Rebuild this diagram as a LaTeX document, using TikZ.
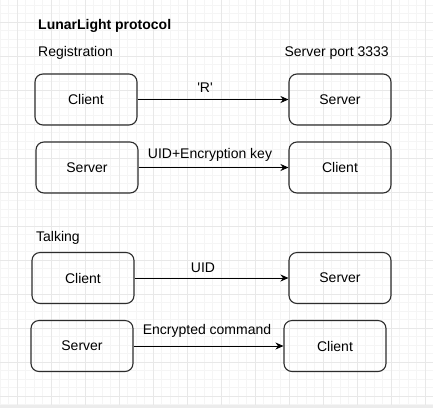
\documentclass[tikz,border=0pt]{standalone}
\usepackage{fontspec}
\setmainfont{Liberation Sans}[Ligatures=TeXOff]
\usetikzlibrary{arrows.meta}
\definecolor{gridminor}{RGB}{245,245,245}
\definecolor{gridmajor}{RGB}{232,232,232}
\definecolor{boxline}{RGB}{45,45,45}
\definecolor{edgegray}{RGB}{236,236,236}

\begin{document}
\begin{tikzpicture}[x=1pt,y=-1pt,
  box/.style={draw=boxline,line width=1.1pt,rounded corners=8pt,minimum width=102pt,minimum height=51pt,font=\fontsize{14}{16}\selectfont},
  txt/.style={inner sep=0pt,font=\fontsize{14}{16}\selectfont},
  msg/.style={-{Stealth[length=8pt,width=7pt]},line width=0.8pt}]
  \useasboundingbox (0,0) rectangle (433,408);
  \fill[white] (0,0) rectangle (433,408);
  % grid
  \foreach \k in {-2,...,49} {
    \draw[gridminor,line width=0.7pt] ({17.3+8.5*\k},0) -- ({17.3+8.5*\k},405);
    \draw[gridminor,line width=0.7pt] (0,{22.3+8.5*\k}) -- (433,{22.3+8.5*\k});
  }
  \foreach \k in {0,...,12} {
    \draw[gridmajor,line width=0.7pt] ({17.3+34*\k},0) -- ({17.3+34*\k},405);
    \draw[gridmajor,line width=0.7pt] (0,{22.3+34*\k}) -- (433,{22.3+34*\k});
  }
  \fill[edgegray] (0,405) rectangle (433,408);
  % headings
  \node[txt,anchor=west,font=\fontsize{14}{16}\selectfont\bfseries] (title) at (38,26) {LunarLight protocol};
  \node[txt,anchor=west] (reg) at (38,53) {Registration};
  \node[txt,anchor=east] (port) at (389,53) {Server port 3333};
  \node[txt,anchor=west] (talk) at (36,238) {Talking};
  % registration
  \node[box] (c1) at (86,99.5) {Client};
  \node[box] (s1) at (340,99.5) {Server};
  \node[box] (s2) at (87,167.5) {Server};
  \node[box] (c2) at (340,167.5) {Client};
  \draw[msg] (c1) -- (s1);
  \draw[msg] (s2) -- (c2);
  \node[txt] (lr) at (205,88) {'R'};
  \node[txt] (lkey) at (210,155) {UID+Encryption key};
  % talking
  \node[box] (c3) at (83,278) {Client};
  \node[box] (s3) at (340,278) {Server};
  \node[box] (s4) at (82,346) {Server};
  \node[box] (c4) at (335,346) {Client};
  \draw[msg] (c3) -- (s3);
  \draw[msg] (s4) -- (c4);
  \node[txt] (luid) at (203,268) {UID};
  \node[txt] (lcmd) at (207,331) {Encrypted command};
\end{tikzpicture}
\end{document}
